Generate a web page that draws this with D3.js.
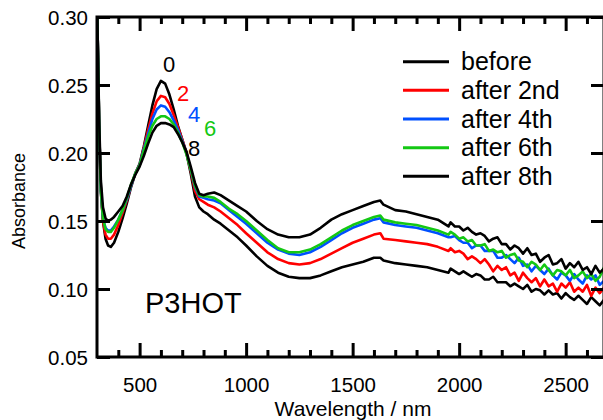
<!DOCTYPE html>
<html><head><meta charset="utf-8">
<script src="https://cdn.jsdelivr.net/npm/d3@7"></script>
<style>
html,body{margin:0;padding:0;background:#fff;}
svg{display:block;font-family:"Liberation Sans",Arial,Helvetica,sans-serif;}
</style></head>
<body>
<svg id="chart" width="603" height="420"></svg>
<script>
// ---------- DATA ----------
const wavelengths = [300,305,310,318,328,340,352,365,380,400,420,440,460,480,500,520,540,560,580,600,620,640,660,680,700,720,740,760,780,800,820,850,880,920,960,1000,1050,1100,1150,1200,1250,1300,1350,1400,1450,1500,1550,1600,1630,1645,1700,1750,1800,1850,1900,1950,
  1960,1980,2000,2020,2040,2060,2080,2100,2120,2140,2160,2180,2200,2220,2240,2260,2280,2300,2320,2340,2360,2380,2400,2420,2440,2460,2480,2500,2520,2540,2560,2580,2600,2620,2640,2660,2680];

const before = [0.31,0.27,0.22,0.175,0.150,0.137,0.132,0.131,0.134,0.142,0.152,0.163,0.175,0.185,0.192,0.205,0.220,0.235,0.247,0.253,0.251,0.243,0.232,0.220,0.210,0.200,0.185,0.168,0.160,0.157,0.155,0.151,0.148,0.143,0.138,0.132,0.124,0.117,0.112,0.109,0.108,0.108,0.110,0.113,0.116,0.118,0.120,0.123,0.123,0.121,0.119,0.118,0.117,0.116,0.114,0.112,
  0.115,0.113,0.111,0.113,0.111,0.109,0.111,0.110,0.107,0.107,0.109,0.105,0.105,0.105,0.102,0.104,0.102,0.100,0.103,0.098,0.100,0.099,0.096,0.099,0.096,0.097,0.093,0.097,0.094,0.092,0.095,0.092,0.089,0.094,0.091,0.088,0.092];

const after2 = [0.31,0.27,0.22,0.172,0.150,0.140,0.137,0.137,0.140,0.147,0.156,0.165,0.176,0.185,0.191,0.204,0.217,0.229,0.238,0.242,0.241,0.236,0.228,0.219,0.210,0.200,0.187,0.172,0.166,0.164,0.162,0.160,0.157,0.152,0.147,0.141,0.134,0.127,0.122,0.119,0.118,0.119,0.122,0.126,0.130,0.134,0.137,0.140,0.141,0.137,0.136,0.135,0.134,0.133,0.131,0.128,
  0.130,0.127,0.128,0.126,0.122,0.124,0.122,0.119,0.122,0.118,0.113,0.117,0.114,0.116,0.110,0.112,0.106,0.112,0.108,0.105,0.108,0.102,0.107,0.102,0.104,0.098,0.104,0.101,0.105,0.098,0.101,0.098,0.103,0.095,0.101,0.097,0.101];

const after4 = [0.31,0.27,0.22,0.172,0.152,0.145,0.143,0.143,0.146,0.151,0.158,0.166,0.176,0.185,0.191,0.203,0.214,0.225,0.232,0.235,0.234,0.230,0.224,0.217,0.209,0.200,0.188,0.175,0.168,0.167,0.166,0.165,0.163,0.158,0.153,0.148,0.141,0.134,0.129,0.126,0.125,0.127,0.131,0.136,0.141,0.145,0.148,0.151,0.152,0.149,0.147,0.146,0.145,0.143,0.141,0.138,
  0.138,0.139,0.136,0.134,0.134,0.130,0.132,0.132,0.128,0.128,0.128,0.123,0.123,0.125,0.122,0.119,0.123,0.117,0.118,0.113,0.117,0.114,0.111,0.115,0.110,0.107,0.112,0.110,0.106,0.111,0.107,0.104,0.110,0.107,0.110,0.103,0.106];

const after6 = [0.31,0.27,0.22,0.172,0.152,0.144,0.142,0.142,0.145,0.151,0.158,0.167,0.177,0.185,0.191,0.202,0.212,0.220,0.225,0.227,0.227,0.225,0.221,0.215,0.208,0.199,0.188,0.176,0.169,0.168,0.168,0.167,0.164,0.159,0.155,0.150,0.143,0.136,0.130,0.127,0.127,0.129,0.133,0.138,0.143,0.147,0.150,0.153,0.154,0.151,0.149,0.148,0.147,0.145,0.143,0.140,
  0.142,0.140,0.137,0.138,0.135,0.136,0.132,0.132,0.133,0.128,0.129,0.127,0.128,0.123,0.125,0.126,0.121,0.120,0.116,0.120,0.118,0.114,0.118,0.114,0.110,0.114,0.113,0.110,0.114,0.108,0.110,0.113,0.108,0.111,0.106,0.109,0.116];

const after8 = [0.31,0.27,0.225,0.180,0.160,0.152,0.150,0.151,0.153,0.157,0.161,0.168,0.177,0.184,0.190,0.198,0.207,0.215,0.220,0.222,0.222,0.221,0.219,0.214,0.208,0.201,0.190,0.178,0.170,0.169,0.170,0.171,0.169,0.165,0.161,0.157,0.150,0.144,0.140,0.138,0.138,0.140,0.145,0.151,0.155,0.158,0.161,0.164,0.165,0.162,0.158,0.157,0.155,0.153,0.151,0.146,
  0.149,0.146,0.146,0.143,0.145,0.142,0.140,0.141,0.139,0.135,0.137,0.138,0.133,0.133,0.129,0.132,0.130,0.126,0.130,0.125,0.126,0.120,0.123,0.125,0.118,0.119,0.122,0.115,0.119,0.116,0.120,0.114,0.116,0.111,0.117,0.112,0.115];

const seriesNames = ["before","after 2nd","after 4th","after 6th","after 8th"];
const seriesColors = ["#000000","#ff0000","#0050ff","#14c814","#000000"];
const seriesValues = [before, after2, after4, after6, after8];

const peakLabels = ["0","2","4","6","8"];
const peakLabelColors = ["#000000","#ff0000","#0050ff","#14c814","#000000"];

const xMajorTicks = [500,1000,1500,2000,2500];
const yMajorTicks = [0.05,0.10,0.15,0.20,0.25,0.30];

// ---------- LAYOUT ----------
const svg = d3.select("#chart");
const L = 97, R = 604, T = 17, B = 357;
const x = d3.scaleLinear().domain([300, 2680]).range([L, R]);
const y = d3.scaleLinear().domain([0.05, 0.30]).range([B, T]);

svg.append("defs").append("clipPath").attr("id","plotclip")
  .append("rect").attr("x",L).attr("y",T).attr("width",R-L).attr("height",B-T);

// data lines
const line = d3.line().x(d => x(d[0])).y(d => y(d[1]));
const drawOrder = [0,1,2,3,4];
const gLines = svg.append("g").attr("clip-path","url(#plotclip)");
drawOrder.forEach(i => {
  gLines.append("path")
    .datum(wavelengths.map((w,k) => [w, seriesValues[i][k]]))
    .attr("d", line)
    .attr("fill","none")
    .attr("stroke", seriesColors[i])
    .attr("stroke-width", 2.6)
    .attr("stroke-linejoin","round");
});

// axes
const xMinor = d3.range(400, 2700, 100).filter(v => !xMajorTicks.includes(v));
const axStroke = 3;
function styleAxis(g){
  g.select(".domain").remove();
  g.selectAll(".tick line").attr("stroke","#000").attr("stroke-width",axStroke);
  g.selectAll(".tick text").attr("fill","#000");
}
// bottom
const gxB = svg.append("g").attr("transform",`translate(0,${B})`)
  .call(d3.axisBottom(x).tickValues(xMajorTicks).tickSize(-14).tickPadding(18).tickFormat(d3.format("d")));
styleAxis(gxB);
gxB.selectAll(".tick text").attr("font-size","20.5px").attr("dy","0.71em").attr("y",20);
svg.append("g").attr("transform",`translate(0,${B})`)
  .call(d3.axisBottom(x).tickValues(xMinor).tickSize(-7).tickFormat(""))
  .call(styleAxis);
// top
svg.append("g").attr("transform",`translate(0,${T})`)
  .call(d3.axisTop(x).tickValues(xMajorTicks).tickSize(-14).tickFormat(""))
  .call(styleAxis);
svg.append("g").attr("transform",`translate(0,${T})`)
  .call(d3.axisTop(x).tickValues(xMinor).tickSize(-7).tickFormat(""))
  .call(styleAxis);
// left
const gyL = svg.append("g").attr("transform",`translate(${L},0)`)
  .call(d3.axisLeft(y).tickValues(yMajorTicks).tickSize(-13).tickPadding(9).tickFormat(d3.format(".2f")));
styleAxis(gyL);
gyL.selectAll(".tick text").attr("font-size","20.5px").attr("x",-9).attr("dy","0.36em");
// right
svg.append("g").attr("transform",`translate(${R},0)`)
  .call(d3.axisRight(y).tickValues(yMajorTicks).tickSize(-13).tickFormat(""))
  .call(styleAxis);

// frame
svg.append("rect").attr("x",L).attr("y",T).attr("width",R-L).attr("height",B-T)
  .attr("fill","none").attr("stroke","#000").attr("stroke-width",axStroke);

// axis titles
svg.append("text").attr("x",353).attr("y",416).attr("text-anchor","middle")
  .attr("font-size","21px").text("Wavelength / nm");
svg.append("text").attr("transform","translate(25,201) rotate(-90)").attr("text-anchor","middle")
  .attr("font-size","18px").text("Absorbance");

// legend
const legY0 = 61.7, legDy = 28.65;
seriesNames.forEach((n,i) => {
  const yy = legY0 + i*legDy;
  svg.append("line").attr("x1",403).attr("x2",449).attr("y1",yy).attr("y2",yy)
    .attr("stroke",seriesColors[i]).attr("stroke-width",3);
  svg.append("text").attr("x",461).attr("y",yy+8.5).attr("font-size","25px").text(n);
});

// peak labels
const peakPos = [[163,71.5],[177,101],[188,121.5],[204,136],[188,156]];
peakLabels.forEach((t,i) => {
  svg.append("text").attr("x",peakPos[i][0]).attr("y",peakPos[i][1])
    .attr("font-size","22px").attr("fill",peakLabelColors[i]).text(t);
});

// sample label
svg.append("text").attr("x",145).attr("y",313).attr("font-size","29px").text("P3HOT");
</script>
</body></html>
